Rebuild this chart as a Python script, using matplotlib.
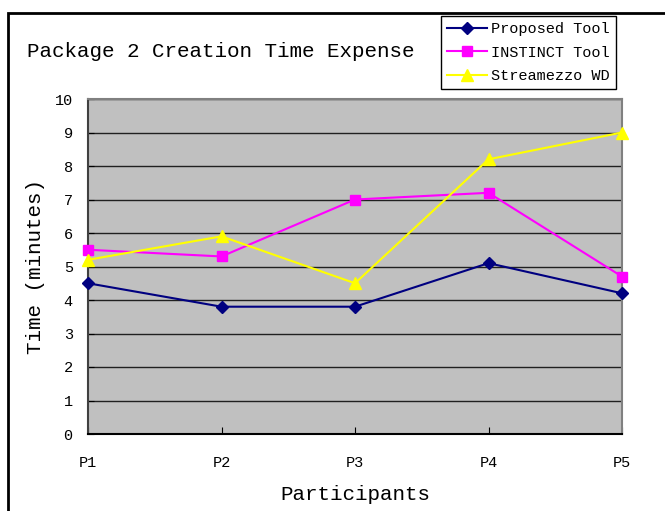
import matplotlib.pyplot as plt
from matplotlib.patches import Rectangle

participants = ["P1", "P2", "P3", "P4", "P5"]
proposed = [4.5, 3.8, 3.8, 5.1, 4.2]
instinct = [5.5, 5.3, 7.0, 7.2, 4.7]
streamezzo = [5.2, 5.9, 4.5, 8.2, 9.0]

plt.rcParams['font.family'] = ['Liberation Mono', 'DejaVu Sans Mono']

W, H = 665, 511
fig = plt.figure(figsize=(W / 100, H / 100), dpi=100)

# chart area border, runs off the right and bottom edges
fig.patches.append(Rectangle((8 / W, -0.05), 1.1, 1 - 13 / H + 0.05,
                             transform=fig.transFigure, fill=False,
                             edgecolor='black', linewidth=2))

left, right, top, bottom = 88, 622, 99, 434
ax = fig.add_axes([left / W, 1 - bottom / H, (right - left) / W, (bottom - top) / H])
ax.set_facecolor('#C0C0C0')

x = range(len(participants))
ax.plot(x, proposed, color='#000080', marker='D', markersize=6, linewidth=1.5, label='Proposed Tool', clip_on=False, zorder=3)
ax.plot(x, instinct, color='#FF00FF', marker='s', markersize=7, linewidth=1.5, label='INSTINCT Tool', clip_on=False, zorder=3)
ax.plot(x, streamezzo, color='#FFFF00', marker='^', markersize=8, linewidth=1.5, label='Streamezzo WD', clip_on=False, zorder=3)

ax.set_xlim(0, len(participants) - 1)
ax.set_ylim(0, 10)
ax.set_yticks(range(0, 11))
ax.set_xticks(list(x))
ax.set_xticklabels(participants, fontsize=11)
ax.tick_params(axis='y', labelsize=11, length=4, direction='in', pad=11)
ax.tick_params(axis='x', labelsize=11, length=5, direction='in', pad=16)
ax.yaxis.grid(True, color='#202020', linewidth=1)
ax.set_axisbelow(True)

for side in ['top', 'right']:
    ax.spines[side].set_color('#808080')
    ax.spines[side].set_linewidth(1.5)
ax.spines['left'].set_color('#404040')
ax.spines['left'].set_linewidth(1.5)
ax.spines['bottom'].set_color('black')
ax.spines['bottom'].set_linewidth(1.5)

ax.set_ylabel('Time (minutes)', fontsize=15, labelpad=7)
ax.set_xlabel('Participants', fontsize=15, labelpad=11)

fig.text(27 / W, 1 - 51 / H, 'Package 2 Creation Time Expense', fontsize=15, va='center', ha='left')

leg = fig.legend(loc='upper left', bbox_to_anchor=(441 / W, 1 - 16 / H), fontsize=11,
                 frameon=True, fancybox=False, edgecolor='black', framealpha=1,
                 handlelength=2.6, handletextpad=0.3, borderpad=0.4, labelspacing=0.62,
                 borderaxespad=0)
leg.get_frame().set_linewidth(1)

fig.savefig('out.png', dpi=100)
